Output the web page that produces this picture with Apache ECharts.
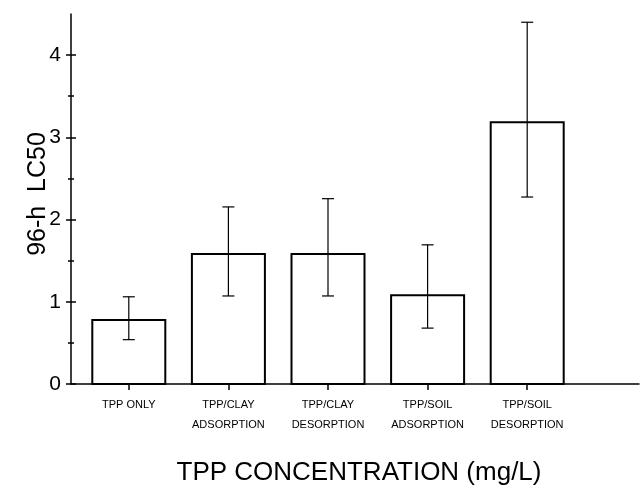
<!DOCTYPE html>
<html>
<head>
<meta charset="utf-8">
<script src="https://cdn.jsdelivr.net/npm/echarts@6/dist/echarts.min.js"></script>
<style>html,body{margin:0;padding:0;background:#fff;}#c{width:640px;height:491px;}</style>
</head>
<body>
<div id="c"></div>
<script>
const categories = ['TPP ONLY', 'TPP/CLAY\nADSORPTION', 'TPP/CLAY\nDESORPTION', 'TPP/SOIL\nADSORPTION', 'TPP/SOIL\nDESORPTION'];
const lc50 = [0.8, 1.6, 1.6, 1.1, 3.2];
const errLow = [0.55, 1.08, 1.08, 0.69, 2.28];
const errHigh = [1.07, 2.16, 2.26, 1.70, 4.40];
const yTicks = [0, 1, 2, 3, 4];
const yMinorTicks = [0.5, 1.5, 2.5, 3.5];
const yMin = 0, yMax = 4.5;

const FONT = 'Liberation Sans, Arial, Helvetica, sans-serif';
const chart = echarts.init(document.getElementById('c'), null, {renderer: 'canvas'});

const errData = categories.map((c, i) => [i, errLow[i], errHigh[i]]);
const tickStyle = {color: '#000', width: 1.5};

const tickY = (values, inside, len) => ({
  type: 'value', gridIndex: 0, position: 'left', offset: 0, min: yMin, max: yMax,
  axisLine: {show: false}, axisLabel: {show: false}, splitLine: {show: false},
  axisTick: {show: true, customValues: values, inside: inside, length: len, lineStyle: tickStyle}
});

const option = {
  backgroundColor: '#fff',
  animation: false,
  grid: [
    {left: 71, right: 1, top: 14, bottom: 106},
    {left: 79, right: 63, top: 14, bottom: 106}
  ],
  xAxis: [
    {
      type: 'value', gridIndex: 0, position: 'bottom', min: 0, max: 1,
      axisLine: {show: true, onZero: false, lineStyle: {color: '#000', width: 1.5}},
      axisTick: {show: false}, axisLabel: {show: false}, splitLine: {show: false},
      name: 'TPP CONCENTRATION (mg/L)', nameLocation: 'middle', nameGap: 76,
      nameTextStyle: {fontFamily: FONT, fontSize: 26, color: '#000', padding: [0, 0, 0, 8]}
    },
    {
      type: 'category', gridIndex: 1, position: 'bottom', offset: 0, data: categories, boundaryGap: true,
      axisLine: {show: false},
      axisTick: {show: true, alignWithLabel: true, length: 5, lineStyle: tickStyle},
      axisLabel: {fontFamily: FONT, fontSize: 11, color: '#000', lineHeight: 20, margin: 10, interval: 0},
      splitLine: {show: false}
    },
    {
      type: 'category', gridIndex: 1, position: 'bottom', offset: 0, data: categories, boundaryGap: true,
      axisLine: {show: false},
      axisTick: {show: true, inside: true, alignWithLabel: true, length: 5, lineStyle: tickStyle},
      axisLabel: {show: false},
      splitLine: {show: false}
    }
  ],
  yAxis: [
    {
      type: 'value', gridIndex: 0, position: 'left', offset: 0, min: yMin, max: yMax,
      axisLine: {show: true, onZero: false, lineStyle: {color: '#000', width: 1.5}},
      axisTick: {show: true, customValues: yTicks, length: 5, lineStyle: tickStyle},
      axisLabel: {customValues: yTicks, fontFamily: FONT, fontSize: 21, color: '#000', margin: 10},
      splitLine: {show: false},
      name: '96-h  LC50', nameLocation: 'middle', nameGap: 20, nameMoveOverlap: false,
      nameTextStyle: {fontFamily: FONT, fontSize: 25, color: '#000', padding: [0, 0, 0, 10]}
    },
    tickY(yTicks, true, 5),
    tickY(yMinorTicks, false, 3),
    tickY(yMinorTicks, true, 3),
    {
      type: 'value', gridIndex: 1, position: 'left', min: yMin, max: yMax,
      axisLine: {show: false}, axisLabel: {show: false}, axisTick: {show: false}, splitLine: {show: false}
    }
  ],
  series: [
    {
      type: 'bar', xAxisIndex: 1, yAxisIndex: 4, data: lc50, barWidth: 75,
      itemStyle: {color: '#fff', borderColor: '#000', borderWidth: 2},
      silent: true
    },
    {
      type: 'custom', xAxisIndex: 1, yAxisIndex: 4, data: errData,
      encode: {x: 0, y: [1, 2]},
      silent: true, z: 5,
      renderItem: function (params, api) {
        const xi = api.value(0);
        const lo = api.coord([xi, api.value(1)]);
        const hi = api.coord([xi, api.value(2)]);
        const hw = 6;
        const st = {stroke: '#000', lineWidth: 1.2};
        return {
          type: 'group',
          children: [
            {type: 'line', shape: {x1: lo[0], y1: lo[1], x2: hi[0], y2: hi[1]}, style: st},
            {type: 'line', shape: {x1: lo[0] - hw, y1: lo[1], x2: lo[0] + hw, y2: lo[1]}, style: st},
            {type: 'line', shape: {x1: hi[0] - hw, y1: hi[1], x2: hi[0] + hw, y2: hi[1]}, style: st}
          ]
        };
      }
    }
  ]
};
chart.setOption(option);
</script>
</body>
</html>
